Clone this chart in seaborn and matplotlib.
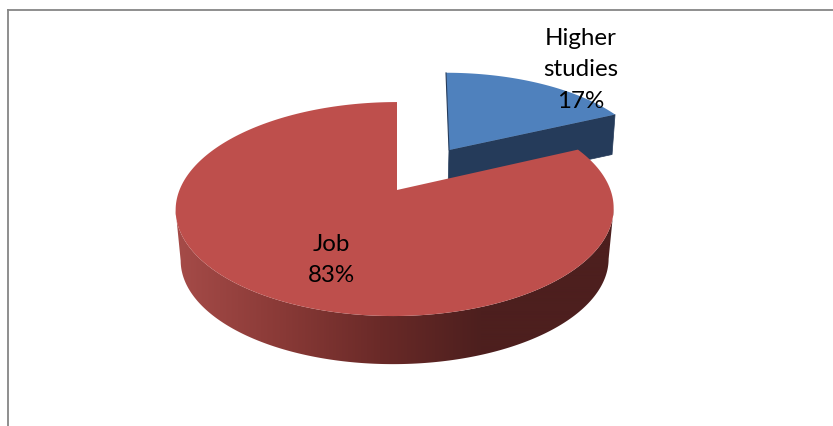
import numpy as np
import matplotlib
matplotlib.use("Agg")
import matplotlib.pyplot as plt
from matplotlib.colors import to_rgb
from matplotlib.patches import Polygon
import seaborn as sns

categories = ["Higher\nstudies", "Job"]
shares = [17, 83]
top_colors = ["#4F81BD", "#BE4F4C"]
label_pos = [(581, 70), (331, 260)]

sns.set_theme(style="white")
plt.rcParams["font.family"] = ["Lato", "DejaVu Sans"]

W, H = 833, 426
fig = plt.figure(figsize=(W / 100, H / 100), dpi=100, facecolor="white")
L, T = 8, 10
ax = fig.add_axes([L / W, -10 / H, (W + 10 - L) / W, (H + 10 - T) / H])
ax.set_xticks([])
ax.set_yticks([])
for s in ["right", "bottom"]:
    ax.spines[s].set_visible(False)
for s in ["top", "left"]:
    ax.spines[s].set_color("#868686")
    ax.spines[s].set_linewidth(1.3)

K = 0.178  # perspective of the tilted disc


def project(theta, cx, cy, R, a, shear=0.0):
    th = np.radians(theta + 4.6 * np.sin(np.radians(theta)))
    u, v = np.sin(th), np.cos(th)
    d = 1 + K * v
    return cx + R * u / d + shear * v, cy - a * v / d


def arc(t0, t1, *geom, **kw):
    return project(np.linspace(t0, t1, 240), *geom, **kw)


boundary = shares[0] / sum(shares) * 360

# Higher studies: exploded slice, further from the viewer
bl = (449, 150, 198, 91)
bx, by = arc(0, boundary, *bl, shear=-3)
blue_depth = 40
ex, ey = project(boundary, *bl, shear=-3)
ax.fill([bl[0], ex, ex - 3, bl[0] - 1], [bl[1], ey, ey + blue_depth, bl[1] + blue_depth],
        color="#253B5A", lw=0.5, zorder=2)
ax.fill(np.r_[bl[0], bx], np.r_[bl[1], by], color=top_colors[0], lw=0, zorder=3)
ax.plot([bl[0] - 3, bl[0]], [by[0], bl[1]], color="#253B5A", lw=0.8, zorder=3)

# Job: main slice with shaded rim, bounded by the tangents of the two ellipses
rt = (395, 190, 215.5, 103.6)
rb = (395, 241, 215.5 * 0.977, 103.6 * 0.977)
thetas = np.linspace(boundary, 340, 900)
x_t, y_t = project(thetas, *rt, shear=2)
x_b, y_b = project(thetas, *rb, shear=2)
it0, it1 = np.argmax(x_t), np.argmin(x_t)
ib0, ib1 = np.argmax(x_b), np.argmin(x_b)
rim = Polygon(np.c_[np.r_[x_t[it0:it1 + 1], x_b[ib0:ib1 + 1][::-1]],
                    np.r_[y_t[it0:it1 + 1], y_b[ib0:ib1 + 1][::-1]]],
              closed=True, transform=ax.transData, fc="none", ec="none")
ax.add_patch(rim)
shade = sns.blend_palette(["#A54B48", "#8A3A37", "#6A2A28", "#4D1F1E"], n_colors=256)
px = np.linspace(170, 625, 910)
idx = (np.clip((px - 178) / (480 - 178), 0, 1) * 255).astype(int)
grad = np.array([to_rgb(shade[i]) for i in idx])[None, :, :]
im = ax.imshow(grad, extent=(170, 625, y_b.max() + 2, y_t.min() - 2), aspect="auto",
               interpolation="bilinear", zorder=4)
im.set_clip_path(rim)
rx, ry = arc(boundary, 360, *rt, shear=2)
ax.fill(np.r_[rt[0] + 2, rx], np.r_[rt[1], ry], color=top_colors[1], lw=0, zorder=5)

ax.set_xlim(L, W + 10)
ax.set_ylim(H + 10, T)

# Labels
for name, share, (lx, ly) in zip(categories, shares, label_pos):
    ax.text(lx, ly, f"{name}\n{share}%", ha="center", va="center", fontsize=17.4,
            color="black", linespacing=1.6, zorder=6)

fig.savefig("out.png", dpi=100, facecolor="white")
